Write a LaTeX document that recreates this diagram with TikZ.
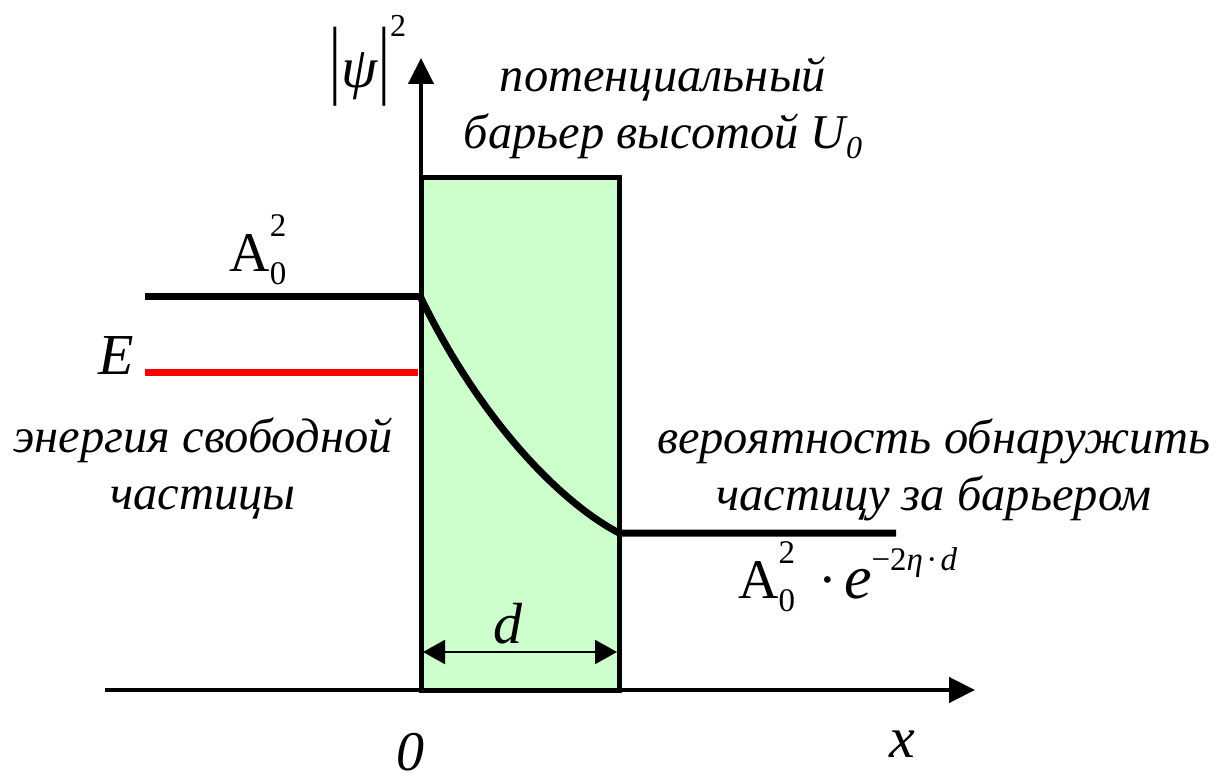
\documentclass[tikz,border=0pt]{standalone}
\usepackage{fontspec}
\usepackage{graphicx}
\setmainfont{Liberation Serif}[ItalicFont={Liberation Serif Italic},BoldFont={Liberation Serif Bold}]
\usetikzlibrary{arrows.meta}
\definecolor{barrier}{RGB}{204,255,204}
\newcommand\mystack[2]{\rlap{\raisebox{0.62em}{#1}}\raisebox{-0.24em}{#2}}
\begin{document}
\begin{tikzpicture}[x=1pt,y=-1pt,
  axis/.style={line width=4.5pt,-{Triangle[length=26pt,width=25pt]}},
  level/.style={line width=7pt},
  lbl/.style={font=\fontsize{48.5}{57}\selectfont\itshape,align=center,inner sep=0pt},
  sym/.style={font=\fontsize{58}{60}\selectfont,inner sep=0pt}]
\useasboundingbox (0,0) rectangle (1219,784);
% coordinates
\coordinate (xstart) at (105,690);
\coordinate (xend) at (975,690);
\coordinate (O) at (421,690);
\coordinate (ytop) at (421,58);
\coordinate (a0L) at (145,296);
\coordinate (a0R) at (420,296);
\coordinate (eL) at (145,372);
\coordinate (eR) at (418,372);
\coordinate (cEnd) at (619,533);
\coordinate (rEnd) at (896,533);
\coordinate (dL) at (423,652);
\coordinate (dR) at (617,652);
% barrier
\draw[line width=5pt,fill=barrier] (421,177) rectangle (619,690);
% axes
\draw[axis] (xstart) -- (xend);
\draw[axis] (O) -- (ytop);
% levels
\draw[level] (a0L) -- (a0R);
\draw[level,red] (eL) -- (eR);
\draw[level] (a0R) .. controls (480,420) and (560,502) .. (cEnd) -- (rEnd);
% width arrow
\draw[line width=2pt,{Triangle[length=22pt,width=24pt]}-{Triangle[length=22pt,width=24pt]}] (dL) -- (dR);
% labels
\node[sym] (psi) at (368,61) {\scalebox{1}[1.5]{|}\textit{ψ}\scalebox{1}[1.5]{|}\raisebox{0.88em}{\fontsize{32}{32}\selectfont 2}};
\node[lbl] (barlbl) at (663,108) {потенциальный\\барьер высотой \textit{U}\raisebox{-0.2em}{\fontsize{32}{32}\selectfont\itshape 0}};
\node[sym,font=\fontsize{56}{60}\selectfont] (a0) at (258,250) {A\mystack{\fontsize{33}{33}\selectfont 2}{\fontsize{33}{33}\selectfont 0}};
\node[sym] (E) at (116,356) {\textit{E}};
\node[lbl] (free) at (203,468) {энергия свободной\\частицы};
\node[lbl] (prob) at (934,470) {вероятность обнаружить\\частицу за барьером};
\node[sym,font=\fontsize{56}{60}\selectfont,anchor=base west] (form) at (738,598) {A\mystack{\fontsize{33}{33}\selectfont 2}{\fontsize{33}{33}\selectfont 0}\hspace{0.42em}·\hspace{0.12em}{\fontsize{62}{62}\selectfont\textit{e}}\raisebox{0.5em}{\fontsize{33}{33}\selectfont −2\textit{η}\hspace{0.1em}·\hspace{0.1em}\textit{d}}};
\node[sym] (d) at (508,624) {\textit{d}};
\node[sym,font=\fontsize{56}{60}\selectfont] (zero) at (410,752) {\textit{0}};
\node[sym] (x) at (902,744) {\textit{x}};
\end{tikzpicture}
\end{document}
